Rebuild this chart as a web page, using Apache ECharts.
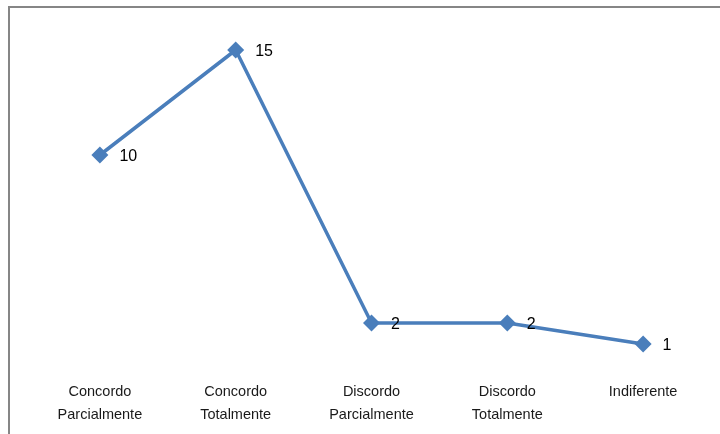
<!DOCTYPE html>
<html>
<head>
<meta charset="utf-8">
<script src="https://cdn.jsdelivr.net/npm/echarts@6/dist/echarts.min.js"></script>
<style>
  html, body { margin: 0; padding: 0; background: #ffffff; }
  #chart { width: 720px; height: 434px; }
</style>
</head>
<body>
<div id="chart"></div>
<script>
// Respostas por categoria
const categories = [
  'Concordo\nParcialmente',
  'Concordo\nTotalmente',
  'Discordo\nParcialmente',
  'Discordo\nTotalmente',
  'Indiferente'
];
const respostas = [10, 15, 2, 2, 1];

const chart = echarts.init(document.getElementById('chart'));
const labelFont = '"Liberation Sans", Arial, sans-serif';

chart.setOption({
  animation: false,
  backgroundColor: '#ffffff',
  graphic: [
    {
      type: 'polyline',
      shape: { points: [[9, 440], [9, 7], [730, 7]] },
      style: { stroke: '#868686', lineWidth: 2, fill: null },
      silent: true
    }
  ],
  grid: { left: 32, top: 29, width: 679, height: 336 },
  xAxis: {
    type: 'category',
    data: categories,
    boundaryGap: true,
    axisLine: { show: false },
    axisTick: { show: false },
    axisLabel: {
      color: '#1a1a1a',
      fontFamily: labelFont,
      fontSize: 14.5,
      lineHeight: 23,
      margin: 15,
      interval: 0
    }
  },
  yAxis: {
    type: 'value',
    min: 0,
    max: 16,
    show: false,
    splitLine: { show: false }
  },
  series: [
    {
      type: 'line',
      data: respostas,
      symbol: 'diamond',
      symbolSize: 17,
      lineStyle: { color: '#4a7ebb', width: 3.5 },
      itemStyle: { color: '#4a7ebb' },
      label: {
        show: true,
        position: 'right',
        distance: 11,
        color: '#000000',
        fontFamily: labelFont,
        fontSize: 16,
        offset: [0, 2]
      }
    }
  ]
});
</script>
</body>
</html>
